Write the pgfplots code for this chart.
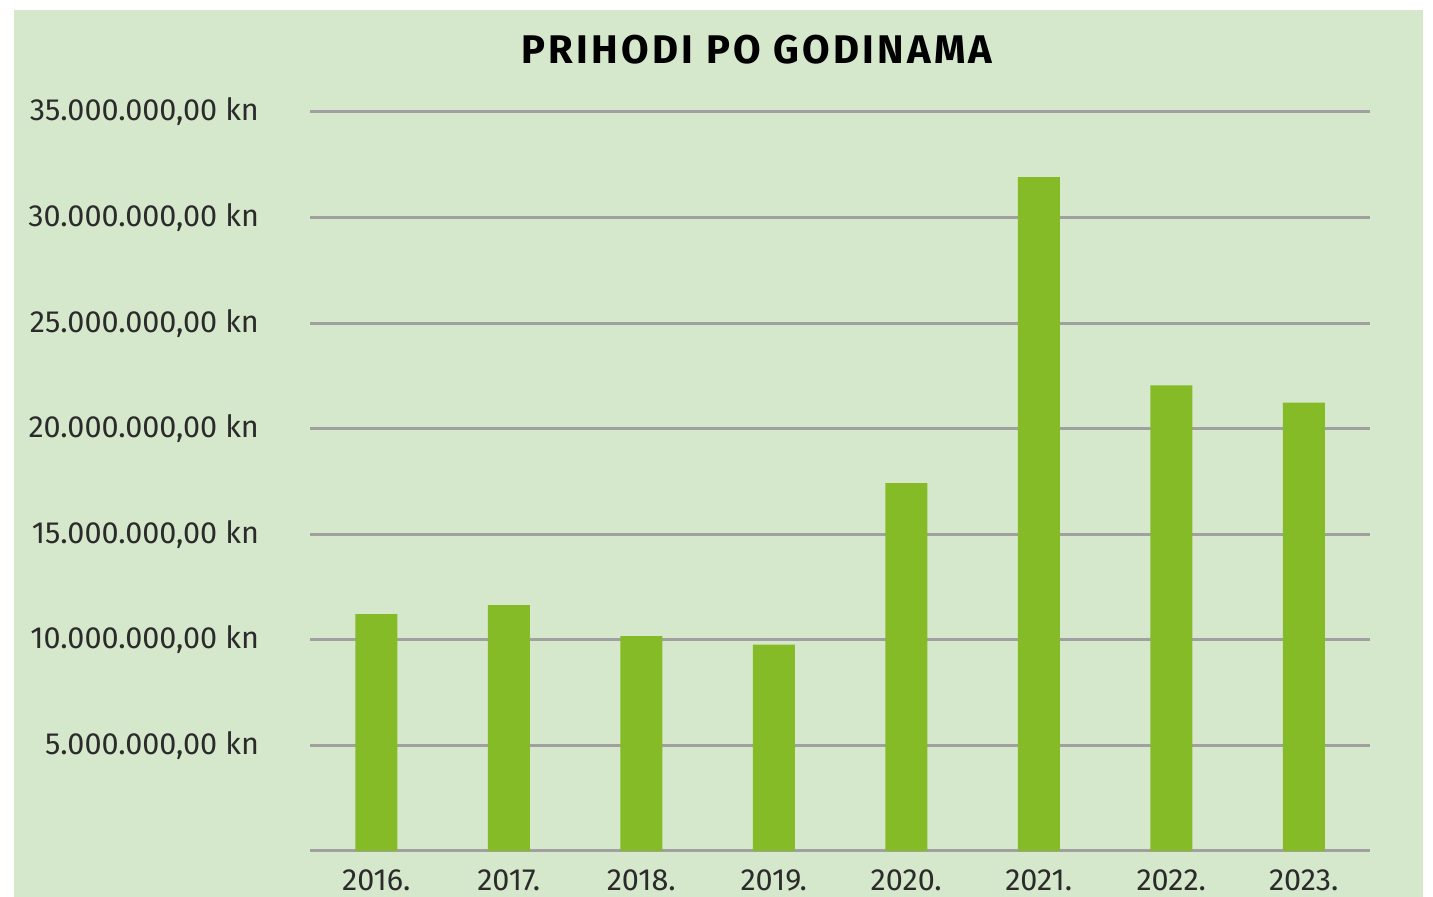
\documentclass[border=0pt]{standalone}
\usepackage{pgfplots}
\pgfplotsset{compat=1.18}
\usepackage{fontspec}
\setmainfont{Fira Sans}
\definecolor{panel}{HTML}{D6E8CC}
\definecolor{bargreen}{HTML}{84BB26}
\definecolor{gridgray}{HTML}{A0A0A0}
\definecolor{labelgray}{HTML}{2B2B2B}
\begin{document}
\begin{tikzpicture}
\fill[white] (0,0) rectangle (716.5pt,448.5pt);
\fill[panel] (7pt,0) rectangle (711.5pt,443.5pt);
\begin{axis}[
  at={(155pt,23pt)}, anchor=south west,
  width=530pt, height=369.5pt, scale only axis,
  xmin=-0.5, xmax=7.5, ymin=0, ymax=35000000,
  axis line style={draw=none},
  tick style={draw=none},
  scaled y ticks=false,
  ybar, bar width=21pt,
  xtick={0,...,7},
  xticklabels={2016.,2017.,2018.,2019.,2020.,2021.,2022.,2023.},
  ytick={0,5000000,10000000,15000000,20000000,25000000,30000000,35000000},
  yticklabels={{},{5.000.000,00 kn},{10.000.000,00 kn},{15.000.000,00 kn},{20.000.000,00 kn},{25.000.000,00 kn},{30.000.000,00 kn},{35.000.000,00 kn}},
  ymajorgrids, major grid style={gridgray, line width=1.5pt},
  major tick length=0pt,
  tick label style={font=\fontsize{15.3}{18}\selectfont, text=labelgray},
  yticklabel style={anchor=east, xshift=-22pt},
  xticklabel style={anchor=north, yshift=-6pt},
  axis on top=false,
  clip=false,
]
\addplot[fill=bargreen, draw=none] coordinates {
  (0,11220000) (1,11650000) (2,10180000) (3,9770000)
  (4,17420000) (5,31910000) (6,22050000) (7,21240000)
};
\end{axis}
\node[font=\fontsize{20}{24}\selectfont\bfseries\addfontfeatures{LetterSpace=8}, text=black] at (378.5pt,423.5pt) {PRIHODI PO GODINAMA};
\pgfresetboundingbox
\useasboundingbox (0,0) rectangle (716.5pt,448.5pt);
\end{tikzpicture}
\end{document}
